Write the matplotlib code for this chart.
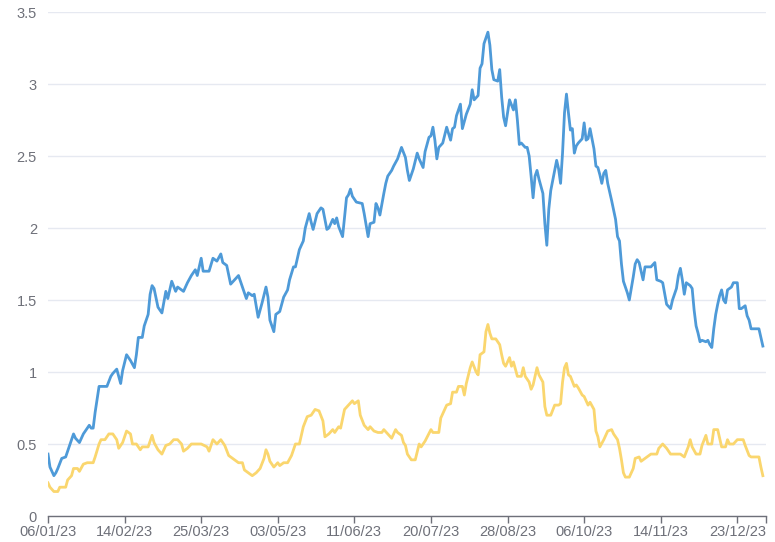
import matplotlib
matplotlib.use("Agg")
import matplotlib.pyplot as plt
import numpy as np

# ---- data (x = days since 06/01/23) ----
tick_labels = ['06/01/23', '14/02/23', '25/03/23', '03/05/23', '11/06/23',
               '20/07/23', '28/08/23', '06/10/23', '14/11/23', '23/12/23']
tick_step_days = 39
axis_end_day = 365.6

y_ticks = [0, 0.5, 1, 1.5, 2, 2.5, 3, 3.5]
y_tick_labels = ['0', '0.5', '1', '1.5', '2', '2.5', '3', '3.5']

blue_days = [0, 1, 3, 4, 5, 7, 9, 11, 13, 14, 16, 18, 19, 21, 22, 23, 24, 26, 28, 30,
             32, 33, 35, 37, 38, 40, 42, 44, 45, 46, 48, 49, 51, 52, 53, 54, 56, 58, 60, 61,
             63, 65, 66, 69, 71, 73, 75, 76, 78, 79, 82, 84, 86, 88, 89, 91, 93, 95, 97, 99,
             101, 102, 104, 105, 107, 109, 111, 112, 113, 115, 116, 118, 120, 122, 123, 125, 126, 128, 130, 131,
             133, 134, 135, 137, 139, 140, 142, 143, 145, 146, 147, 148, 150, 152, 153, 154, 155, 157, 160, 161,
             163, 164, 166, 167, 168, 169, 171, 172, 173, 175, 176, 178, 179, 180, 182, 183, 184, 186, 188, 189,
             191, 192, 194, 195, 196, 197, 198, 199, 201, 203, 205, 206, 207, 208, 210, 211, 213, 215, 216, 217,
             219, 220, 221, 222, 224, 225, 226, 227, 229, 230, 231, 232, 233, 235, 237, 238, 239, 240, 241, 243,
             244, 245, 246, 247, 248, 249, 250, 252, 253, 254, 255, 256, 258, 259, 260, 261, 262, 263, 264, 265,
             266, 267, 268, 269, 270, 272, 273, 274, 275, 276, 278, 279, 280, 281, 282, 283, 284, 285, 287, 289,
             290, 291, 292, 293, 295, 296, 297, 298, 299, 300, 301, 303, 304, 306, 307, 309, 310, 312, 313, 315,
             317, 318, 320, 321, 322, 323, 324, 325, 327, 328, 329, 330, 331, 332, 333, 335, 336, 337, 338, 339,
             340, 341, 342, 343, 344, 345, 346, 348, 349, 351, 352, 353, 355, 356, 357, 358, 362, 363, 364]
blue_vals = [0.43, 0.34, 0.28, 0.30, 0.33, 0.40, 0.41, 0.49, 0.57, 0.54, 0.51, 0.57, 0.59, 0.63, 0.61, 0.61, 0.72, 0.90, 0.90, 0.90,
             0.97, 0.99, 1.02, 0.92, 1.01, 1.12, 1.08, 1.03, 1.12, 1.24, 1.24, 1.32, 1.40, 1.54, 1.60, 1.58, 1.45, 1.41, 1.56, 1.51,
             1.63, 1.56, 1.59, 1.56, 1.62, 1.67, 1.71, 1.67, 1.79, 1.70, 1.70, 1.79, 1.77, 1.82, 1.76, 1.74, 1.61, 1.64, 1.67, 1.59,
             1.51, 1.55, 1.53, 1.54, 1.38, 1.48, 1.59, 1.52, 1.36, 1.28, 1.40, 1.42, 1.52, 1.57, 1.64, 1.73, 1.73, 1.85, 1.91, 2.00,
             2.10, 2.04, 1.99, 2.10, 2.14, 2.13, 1.99, 2.00, 2.06, 2.03, 2.07, 2.01, 1.94, 2.21, 2.23, 2.27, 2.22, 2.18, 2.17, 2.10,
             1.94, 2.03, 2.04, 2.17, 2.14, 2.09, 2.24, 2.31, 2.36, 2.40, 2.43, 2.48, 2.52, 2.56, 2.49, 2.40, 2.33, 2.41, 2.52, 2.48,
             2.42, 2.53, 2.63, 2.64, 2.70, 2.61, 2.48, 2.56, 2.59, 2.70, 2.61, 2.69, 2.70, 2.78, 2.86, 2.69, 2.79, 2.86, 2.96, 2.89,
             2.92, 3.11, 3.14, 3.28, 3.36, 3.27, 3.10, 3.03, 3.02, 3.10, 2.91, 2.77, 2.71, 2.89, 2.82, 2.89, 2.75, 2.58, 2.59, 2.56,
             2.56, 2.50, 2.36, 2.21, 2.36, 2.40, 2.34, 2.24, 2.03, 1.88, 2.13, 2.26, 2.40, 2.47, 2.41, 2.31, 2.52, 2.80, 2.93, 2.80,
             2.68, 2.69, 2.52, 2.57, 2.59, 2.62, 2.73, 2.61, 2.62, 2.69, 2.55, 2.43, 2.42, 2.37, 2.31, 2.38, 2.40, 2.31, 2.19, 2.06,
             1.94, 1.91, 1.75, 1.63, 1.55, 1.50, 1.58, 1.66, 1.75, 1.78, 1.76, 1.64, 1.73, 1.73, 1.73, 1.76, 1.64, 1.63, 1.62, 1.47,
             1.44, 1.50, 1.58, 1.67, 1.72, 1.64, 1.54, 1.62, 1.60, 1.58, 1.43, 1.32, 1.27, 1.21, 1.22, 1.21, 1.22, 1.19, 1.17, 1.30,
             1.40, 1.47, 1.53, 1.57, 1.50, 1.48, 1.57, 1.59, 1.62, 1.62, 1.44, 1.44, 1.46, 1.39, 1.36, 1.30, 1.30, 1.24, 1.18]

yellow_days = [0, 1, 3, 5, 6, 9, 10, 12, 13, 15, 16, 18, 20, 23, 24, 26, 27, 29, 31, 33,
               35, 36, 38, 40, 42, 43, 45, 47, 48, 51, 53, 54, 56, 58, 60, 62, 64, 66, 68, 69,
               71, 73, 78, 81, 82, 84, 86, 88, 90, 92, 94, 97, 99, 100, 102, 104, 106, 108, 110, 111,
               112, 113, 115, 117, 118, 120, 122, 124, 126, 128, 130, 132, 134, 136, 138, 140, 141, 143, 145, 146,
               148, 149, 151, 153, 155, 156, 158, 159, 161, 163, 164, 166, 168, 170, 171, 173, 175, 177, 178, 180,
               181, 182, 183, 185, 187, 189, 190, 192, 195, 196, 199, 200, 203, 205, 206, 208, 209, 211, 212, 213,
               215, 216, 218, 219, 220, 222, 223, 224, 225, 226, 228, 230, 231, 232, 233, 235, 236, 237, 239, 241,
               242, 243, 245, 246, 247, 249, 250, 252, 253, 254, 256, 258, 260, 261, 262, 263, 264, 265, 266, 268,
               269, 270, 272, 273, 275, 276, 278, 279, 280, 281, 283, 284, 285, 287, 288, 290, 291, 292, 293, 294,
               296, 298, 299, 301, 302, 304, 305, 307, 310, 311, 313, 315, 317, 322, 324, 326, 327, 328, 330, 332,
               333, 335, 336, 338, 339, 341, 342, 343, 345, 346, 347, 349, 351, 354, 355, 357, 358, 362, 363, 364]
yellow_vals = [0.23, 0.20, 0.17, 0.17, 0.20, 0.20, 0.25, 0.28, 0.33, 0.33, 0.31, 0.36, 0.37, 0.37, 0.41, 0.50, 0.53, 0.53, 0.57, 0.57,
               0.53, 0.47, 0.51, 0.59, 0.57, 0.50, 0.50, 0.46, 0.48, 0.48, 0.56, 0.51, 0.46, 0.43, 0.49, 0.50, 0.53, 0.53, 0.50, 0.45,
               0.47, 0.50, 0.50, 0.48, 0.45, 0.53, 0.50, 0.53, 0.49, 0.42, 0.40, 0.37, 0.37, 0.32, 0.30, 0.28, 0.30, 0.33, 0.40, 0.46,
               0.43, 0.38, 0.34, 0.37, 0.35, 0.37, 0.37, 0.42, 0.50, 0.50, 0.62, 0.69, 0.70, 0.74, 0.73, 0.66, 0.55, 0.57, 0.60, 0.58,
               0.62, 0.61, 0.74, 0.77, 0.80, 0.78, 0.80, 0.70, 0.63, 0.60, 0.62, 0.59, 0.58, 0.58, 0.60, 0.57, 0.54, 0.60, 0.58, 0.56,
               0.51, 0.49, 0.43, 0.39, 0.39, 0.50, 0.48, 0.52, 0.60, 0.58, 0.58, 0.68, 0.77, 0.78, 0.86, 0.86, 0.90, 0.90, 0.84, 0.92,
               1.03, 1.07, 1.00, 0.98, 1.12, 1.14, 1.28, 1.33, 1.27, 1.23, 1.23, 1.19, 1.12, 1.06, 1.04, 1.10, 1.04, 1.07, 0.97, 0.97,
               1.03, 0.97, 0.93, 0.88, 0.91, 1.03, 0.98, 0.93, 0.76, 0.70, 0.70, 0.77, 0.77, 0.78, 0.93, 1.03, 1.06, 0.98, 0.97, 0.90,
               0.91, 0.89, 0.84, 0.83, 0.77, 0.79, 0.74, 0.59, 0.55, 0.48, 0.53, 0.56, 0.59, 0.60, 0.57, 0.53, 0.47, 0.39, 0.30, 0.27,
               0.27, 0.33, 0.40, 0.41, 0.38, 0.40, 0.41, 0.43, 0.43, 0.47, 0.50, 0.47, 0.43, 0.43, 0.41, 0.48, 0.53, 0.48, 0.43, 0.43,
               0.49, 0.56, 0.50, 0.50, 0.60, 0.60, 0.54, 0.48, 0.48, 0.53, 0.50, 0.50, 0.53, 0.53, 0.49, 0.42, 0.41, 0.41, 0.34, 0.28]

# ---- styling ----
BLUE = '#4E9AD8'
YELLOW = '#FAD66E'
GRID = '#E6E9F1'
AXIS = '#6E7079'
TEXT = '#6E7079'

plt.rcParams['font.family'] = ['Liberation Sans', 'DejaVu Sans']

fig = plt.figure(figsize=(7.75, 5.42), dpi=100)
ax = fig.add_axes([48 / 775, 26 / 542, (766 - 48) / 775, (516 - 12) / 542])

ax.plot(blue_days, blue_vals, color=BLUE, lw=2.0, solid_joinstyle='round', zorder=3)
ax.plot(yellow_days, yellow_vals, color=YELLOW, lw=2.0, solid_joinstyle='round', zorder=3)

ax.set_xlim(0, axis_end_day)
ax.set_ylim(0, 3.5)

tick_pos = [i * tick_step_days for i in range(len(tick_labels))]
ax.set_xticks(tick_pos)
ax.set_xticklabels(tick_labels)
ax.set_xticks([axis_end_day], minor=True)
ax.tick_params(axis='x', which='both', length=5, width=1, color=AXIS,
               labelsize=10.5, labelcolor=TEXT, pad=1.5)

ax.set_yticks(y_ticks)
ax.set_yticklabels(y_tick_labels)
ax.tick_params(axis='y', length=0, labelsize=10.5, labelcolor=TEXT, pad=8)

ax.grid(axis='y', color=GRID, lw=1, zorder=0)
ax.grid(axis='x', visible=False)
for s in ['top', 'right', 'left']:
    ax.spines[s].set_visible(False)
ax.spines['bottom'].set_color(AXIS)
ax.spines['bottom'].set_linewidth(1)
ax.set_axisbelow(True)

fig.savefig('out.png', dpi=100)
